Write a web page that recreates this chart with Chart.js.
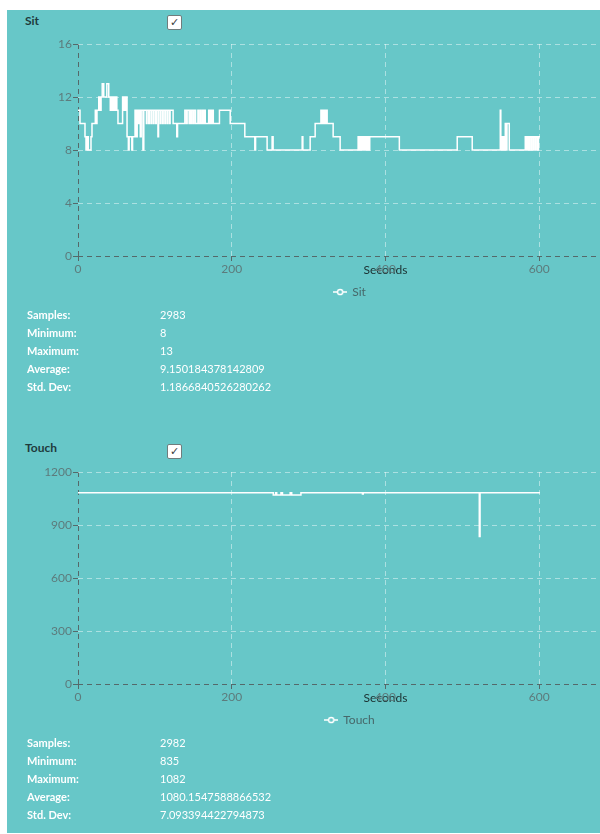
<!DOCTYPE html>
<html>
<head>
<meta charset="utf-8">
<script src="https://cdn.jsdelivr.net/npm/chart.js@4.4.0/dist/chart.umd.min.js"></script>
<style>
  html, body { margin: 0; padding: 0; background: #fff; width: 600px; height: 834px; overflow: hidden; font-family: Lato, "Open Sans", sans-serif; }
  #panel { position: absolute; left: 7px; top: 10px; width: 720px; height: 823px; background: #67c7c8; }
  .title { position: absolute; left: 18px; font-size: 12px; line-height: 14px; font-weight: 700; color: #1f3b3c; }
  .check { position: absolute; left: 160px; width: 13px; height: 13px; background: #fff; border: 1px solid #6f7d7d; border-radius: 2px;
           font-family: "DejaVu Sans", sans-serif; font-size: 11px; font-weight: 700; line-height: 13px; text-align: center; color: #3a4040; }
  canvas { position: absolute; left: 0; }
  .stats { position: absolute; left: 20px; font-size: 11px; color: #fff; }
  .stats div { height: 18px; line-height: 18px; white-space: nowrap; }
  .stats .k { display: inline-block; width: 133px; font-weight: 700; }
</style>
</head>
<body>
<div id="panel">
  <div class="title" style="top:4px">Sit</div>
  <div class="check" style="top:5px">✓</div>
  <canvas id="sitChart" width="694" height="274" style="top:24px"></canvas>
  <div class="stats" id="sitStats" style="top:296px"></div>

  <div class="title" style="top:431px">Touch</div>
  <div class="check" style="top:434px">✓</div>
  <canvas id="touchChart" width="694" height="274" style="top:452px"></canvas>
  <div class="stats" id="touchStats" style="top:724px"></div>
</div>

<script>
// Sit sensor: seconds at which the reading changes, and the new reading
const sitSeconds = [
  0, 2.6, 9.1, 10.4, 11.7, 13.4, 16.9, 18.2, 22.5, 23.4, 24.7,
  27, 28.5, 30, 31.5, 33.5, 37.5, 40, 42, 43, 44.5, 46, 47.5, 49, 50.5, 52,
  58, 59, 60, 61.5, 62.5, 63.8, 65.5, 66.5, 70, 71,
  74.2, 75.5, 77, 78.2, 79.5, 81, 82.2, 84.5, 85.6,
  89, 89.8, 92, 92.8, 95, 95.8, 98, 98.8, 101, 101.8, 104, 104.8, 107, 107.8,
  110, 110.8, 113, 113.8, 116, 116.8, 119, 119.8,
  123.7, 128.5, 129.5,
  139, 141, 142, 144.5, 145.5, 147, 148, 150, 151, 153, 156, 157, 159, 160,
  162, 163, 164.5, 165.5, 170, 171, 172.5, 173.5, 175, 176, 184, 198,
  217, 230, 231, 246, 252.5, 253.8,
  291.6, 292.5, 302, 308.5, 316, 317, 318, 319.5, 320.5, 322, 323, 324.1, 331.9, 341,
  364.4, 366, 367, 368.5, 369.5, 371, 372, 373.5, 374.5, 376, 377, 378.5, 379.5,
  418, 493.3, 512.8, 549.3, 550, 551, 552, 553, 554, 555.8, 557, 558, 561,
  581.8, 583, 584.5, 586, 587, 589, 590, 592, 593, 595, 596, 598, 599, 601
];
const sitValues = [
  11, 10, 9, 8, 9, 8, 9, 10, 11, 10, 11,
  12, 11, 12, 13, 12, 13, 12, 11, 12, 11, 12, 11, 12, 11, 10,
  12, 11, 12, 11, 12, 9, 8, 9, 8, 9,
  11, 9, 11, 10, 11, 9, 11, 8, 11,
  10, 11, 10, 11, 10, 11, 10, 11, 10, 11, 9, 11, 10, 11,
  10, 11, 10, 11, 10, 11, 10, 11,
  10, 9, 10,
  11, 10, 11, 10, 11, 10, 11, 10, 11, 10, 11, 10, 11, 10,
  11, 10, 11, 10, 11, 10, 11, 10, 11, 10, 11, 10,
  9, 8, 9, 8, 9, 8,
  9, 8, 9, 10, 11, 10, 11, 10, 11, 10, 11, 10, 9, 8,
  9, 8, 9, 8, 9, 8, 9, 8, 9, 8, 9, 8, 9,
  8, 9, 8, 11, 8, 9, 8, 9, 8, 10, 8, 10, 8,
  9, 8, 9, 8, 9, 8, 9, 8, 9, 8, 9, 8, 9, 9
];

// Touch sensor: seconds at which the reading changes, and the new reading
const touchSeconds = [0, 254, 257, 258.5, 264, 266, 276, 278, 290, 370, 371, 522, 523, 601];
const touchValues  = [1082, 1070, 1082, 1070, 1082, 1070, 1082, 1070, 1082, 1076, 1082, 835, 1082, 1082];

// Axis ticks
const secondsTicks = [0, 200, 400, 600, 800];
const sitTicks = [0, 4, 8, 12, 16];
const touchTicks = [0, 300, 600, 900, 1200];

// Summary rows shown under each chart
const statLabels = ['Samples:', 'Minimum:', 'Maximum:', 'Average:', 'Std. Dev:'];
const sitStats = ['2983', '8', '13', '9.150184378142809', '1.1866840526280262'];
const touchStats = ['2982', '835', '1082', '1080.1547588866532', '7.093394422794873'];

const PANEL = '#67c7c8';
const FONT = 'Lato, "Open Sans", sans-serif';
Chart.defaults.font.family = FONT;

// legend marker: short line with a hollow dot
const legendIcon = document.createElement('canvas');
legendIcon.width = 14; legendIcon.height = 8;
(function () {
  const g = legendIcon.getContext('2d');
  g.strokeStyle = '#fff'; g.lineWidth = 1.5;
  g.beginPath(); g.moveTo(0, 4); g.lineTo(14, 4); g.stroke();
  g.beginPath(); g.arc(7, 4, 2.6, 0, Math.PI * 2);
  g.fillStyle = PANEL; g.fill(); g.stroke();
})();

function fillStats(id, values) {
  const box = document.getElementById(id);
  statLabels.forEach((k, i) => {
    const row = document.createElement('div');
    const a = document.createElement('span'); a.className = 'k'; a.textContent = k;
    const b = document.createElement('span'); b.textContent = values[i];
    row.appendChild(a); row.appendChild(b); box.appendChild(row);
  });
}

function makeChart(id, label, xs, ys, yTicks) {
  const points = xs.map((x, i) => ({ x: x, y: ys[i] }));
  const axisDark = '#55696a';
  const gridLight = 'rgba(255,255,255,0.45)';
  const plain = v => String(v);
  return new Chart(document.getElementById(id), {
    type: 'line',
    data: {
      datasets: [{
        label: label,
        data: points,
        borderColor: '#ffffff',
        borderWidth: 1.5,
        stepped: true,
        pointRadius: 0,
        pointHoverRadius: 0,
        pointStyle: legendIcon,
        fill: false
      }]
    },
    options: {
      responsive: false,
      animation: false,
      events: [],
      layout: { padding: { top: 10, right: 8, left: 0, bottom: 0 } },
      plugins: {
        tooltip: { enabled: false },
        legend: {
          position: 'bottom',
          labels: { usePointStyle: true, color: '#47686a', font: { size: 12 }, padding: 10 }
        }
      },
      scales: {
        x: {
          type: 'linear',
          min: secondsTicks[0],
          max: secondsTicks[secondsTicks.length - 1],
          afterBuildTicks: s => { s.ticks = secondsTicks.map(v => ({ value: v })); },
          ticks: { color: '#5d7b7c', font: { size: 12 }, padding: 1, maxRotation: 0, autoSkip: false, callback: plain },
          grid: {
            color: c => (c.tick && c.tick.value === 0 ? axisDark : gridLight),
            lineWidth: 1, tickLength: 5, tickColor: axisDark
          },
          border: { display: false, dash: [5, 4] },
          title: { display: true, text: 'Seconds', color: '#1b3031', font: { size: 12 }, padding: { top: 0, bottom: -1 } },
          afterFit: s => { s.height = 20; s.paddingLeft = 0; s.paddingRight = 0; }
        },
        y: {
          min: yTicks[0],
          max: yTicks[yTicks.length - 1],
          afterBuildTicks: s => { s.ticks = yTicks.map(v => ({ value: v })); },
          ticks: { color: '#5d7b7c', font: { size: 12 }, padding: 1, callback: plain },
          grid: {
            color: c => (c.tick && c.tick.value === 0 ? axisDark : gridLight),
            lineWidth: 1, tickLength: 5, tickColor: axisDark
          },
          border: { display: false, dash: [5, 4] },
          afterFit: s => { s.width = 71; }
        }
      }
    }
  });
}

makeChart('sitChart', 'Sit', sitSeconds, sitValues, sitTicks);
makeChart('touchChart', 'Touch', touchSeconds, touchValues, touchTicks);
fillStats('sitStats', sitStats);
fillStats('touchStats', touchStats);
</script>
</body>
</html>
